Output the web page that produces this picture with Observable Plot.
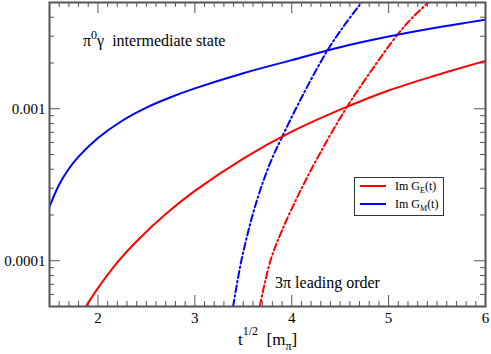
<!DOCTYPE html>
<html><head><meta charset="utf-8">
<script src="https://cdn.jsdelivr.net/npm/d3@7"></script>
<script src="https://cdn.jsdelivr.net/npm/@observablehq/plot@0.6"></script>
<style>body{margin:0;background:#fff} svg{display:block}</style>
</head><body><div id="chart"></div>
<script>
// Data
// Im G_M(t), pi0 gamma intermediate state (blue solid)
const gmX = [1.5, 1.6, 1.7, 1.8, 2.0, 2.25, 2.5, 2.75, 3.0, 3.5, 4.0, 4.5, 5.0, 5.5, 6.0];
const gmY = [2.265e-4, 3.17e-4, 4.03e-4, 4.84e-4, 6.41e-4, 8.34e-4, 1.018e-3, 1.19e-3, 1.361e-3, 1.714e-3, 2.089e-3, 2.541e-3, 2.985e-3, 3.42e-3, 3.855e-3];
// Im G_E(t), pi0 gamma intermediate state (red solid)
const geX = [1.876, 2.0, 2.2, 2.41, 2.7, 3.0, 3.5, 4.0, 4.5, 5.0, 5.5, 6.0];
const geY = [5.0e-5, 6.6e-5, 9.75e-5, 1.365e-4, 2.03e-4, 2.88e-4, 4.7e-4, 7.06e-4, 9.86e-4, 1.318e-3, 1.667e-3, 2.065e-3];
// Im G_M(t), 3pi leading order (blue dash-dot)
const bdX = [3.395, 3.48, 3.6, 3.708, 3.8, 3.894, 4.1, 4.36, 4.55, 4.72];
const bdY = [5.0e-5, 1.0e-4, 2.04e-4, 3.36e-4, 4.76e-4, 6.4e-4, 1.18e-3, 2.37e-3, 3.59e-3, 5.0e-3];
// Im G_E(t), 3pi leading order (red dash-dot)
const rdX = [3.67, 3.78, 3.9, 4.09, 4.3, 4.55, 4.8, 5.096, 5.25, 5.405];
const rdY = [5.0e-5, 1.0e-4, 1.585e-4, 2.89e-4, 5.21e-4, 9.8e-4, 1.7e-3, 3.1e-3, 4.0e-3, 4.97e-3];
const xTickLabels = [2, 3, 4, 5, 6];
const yTickValues = [1e-4, 1e-3];
const yTickLabels = ["0.0001", "0.001"];

const W = 491, H = 354, mL = 49, mR = 6, mT = 2, mB = 48;
const fH = H - mT - mB, fW = W - mL - mR;
const toPts = (xs, ys) => xs.map((x, i) => ({x, y: ys[i]}));
const xMinor = d3.range(16, 60).filter(v => v % 10 !== 0).map(v => v / 10);
const yMinor = [];
for (const e of [1e-5, 1e-4, 1e-3]) for (let k = 2; k <= 9; k++) { const v = k * e; if (v >= 5e-5 && v < 5e-3) yMinor.push(v); }
const gray = "#555";
const dash = "7,3,1.5,3";
const font = "'Liberation Serif', 'Times New Roman', Times, serif";

const svg = Plot.plot({
  width: W, height: H, marginLeft: mL, marginRight: mR, marginTop: mT, marginBottom: mB,
  style: {fontFamily: font, fontSize: "15px", color: "#000", background: "#fff"},
  x: {domain: [1.5, 6], axis: null},
  y: {type: "log", domain: [5e-5, 5e-3], axis: null},
  marks: [
    // inward ticks on all four sides
    Plot.ruleX(xMinor, {stroke: gray, insetBottom: fH - 5}),
    Plot.ruleX(xMinor, {stroke: gray, insetTop: fH - 5}),
    Plot.ruleX(xTickLabels, {stroke: gray, insetBottom: fH - 11}),
    Plot.ruleX(xTickLabels, {stroke: gray, insetTop: fH - 11}),
    Plot.ruleY(yMinor, {stroke: gray, insetRight: fW - 5}),
    Plot.ruleY(yMinor, {stroke: gray, insetLeft: fW - 5}),
    Plot.ruleY(yTickValues, {stroke: gray, insetRight: fW - 11}),
    Plot.ruleY(yTickValues, {stroke: gray, insetLeft: fW - 11}),
    // curves
    Plot.line(toPts(bdX, bdY), {x: "x", y: "y", stroke: "#0000ff", strokeWidth: 2, strokeDasharray: dash, curve: "catmull-rom", clip: true}),
    Plot.line(toPts(rdX, rdY), {x: "x", y: "y", stroke: "#ff0000", strokeWidth: 2, strokeDasharray: dash, curve: "catmull-rom", clip: true}),
    Plot.line(toPts(geX, geY), {x: "x", y: "y", stroke: "#ff0000", strokeWidth: 2, curve: "catmull-rom", clip: true}),
    Plot.line(toPts(gmX, gmY), {x: "x", y: "y", stroke: "#0000ff", strokeWidth: 2, curve: "catmull-rom", clip: true}),
    Plot.frame({stroke: gray, strokeWidth: 2}),
    Plot.axisX({ticks: xTickLabels, tickSize: 0, tickPadding: 6, fontSize: 15, label: null, tickFormat: d => String(d)}),
    Plot.axisY({ticks: yTickValues, tickSize: 0, tickPadding: 4, fontSize: 15, label: null, tickFormat: d => yTickLabels[yTickValues.indexOf(d)]})
  ]
});

const s = d3.select(svg);
const addText = (x, y, size) => s.append("text").attr("x", x).attr("y", y).attr("text-anchor", "start")
  .attr("font-family", font).attr("font-size", size).attr("fill", "#000");
// annotation: pi0 gamma intermediate state
const t1 = addText(83, 46, 16);
t1.append("tspan").text("π");
t1.append("tspan").attr("dy", -7).attr("font-size", 12).text("0");
t1.append("tspan").attr("dy", 7).text("γ  intermediate state");
// annotation: 3 pi leading order
addText(275, 288, 16).text("3π leading order");
// x-axis label
const t2 = addText(238, 345, 17);
t2.append("tspan").text("t");
t2.append("tspan").attr("dy", -10).attr("font-size", 12).text("1/2");
t2.append("tspan").attr("dy", 10).text("  [m");
t2.append("tspan").attr("dy", 5).attr("font-size", 12).text("π");
t2.append("tspan").attr("dy", -5).text("]");
// legend
const lg = s.append("g");
lg.append("rect").attr("x", 354.5).attr("y", 177.5).attr("width", 89).attr("height", 38).attr("fill", "#fff").attr("stroke", "#333").attr("stroke-width", 1);
const items = [["#ff0000", "E", 186], ["#0000ff", "M", 204]];
for (const [c, sub, y] of items) {
  lg.append("line").attr("x1", 360).attr("x2", 386).attr("y1", y).attr("y2", y).attr("stroke", c).attr("stroke-width", 2);
  const t = lg.append("g").append("text").attr("x", 395).attr("y", y + 4).attr("text-anchor", "start")
    .attr("font-family", font).attr("font-size", 12).attr("fill", "#000");
  t.append("tspan").text("Im G");
  t.append("tspan").attr("dy", 3).attr("font-size", 8).text(sub);
  t.append("tspan").attr("dy", -3).text("(t)");
}
document.getElementById("chart").append(svg);
</script>
</body></html>
